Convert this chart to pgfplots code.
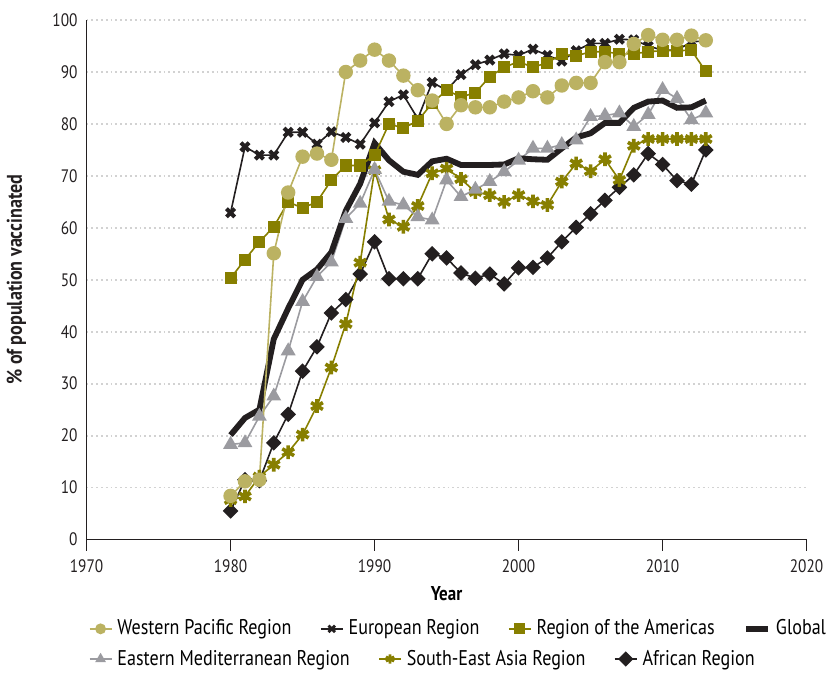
\documentclass[border=0pt]{standalone}
\usepackage{fontspec}
\setmainfont{PT Sans}[FakeStretch=0.85]
\usepackage{pgfplots}
\usepackage{pgfplotstable}
\pgfplotsset{compat=1.18}
\definecolor{wpc}{RGB}{187,178,98}
\definecolor{olv}{RGB}{135,127,0}
\definecolor{gry}{RGB}{155,155,160}
\definecolor{blk}{RGB}{35,31,32}

\pgfplotstableread{
year wp eur amr glob emr sear afr
1980 8.4 62.9 50.3 20.1 18.3 7.6 5.5
1981 11.2 75.6 53.9 23.4 18.6 8.3 11.5
1982 11.5 74.0 57.3 25.0 23.7 12.1 11.3
1983 55.1 74.0 60.2 38.6 27.6 14.4 18.6
1984 66.8 78.4 65.0 44.5 36.3 16.8 24.1
1985 73.7 78.4 63.8 50.0 45.8 20.2 32.4
1986 74.3 76.1 65.0 52.0 50.6 25.7 37.1
1987 73.1 78.5 69.2 55.3 53.4 33.1 43.6
1988 90.0 77.4 72.0 63.3 61.8 41.5 46.2
1989 92.2 76.1 72.0 68.5 64.7 53.3 51.1
1990 94.3 80.2 74.0 76.3 71.2 71.1 57.3
1991 92.2 84.3 80.0 73.0 65.1 61.6 50.2
1992 89.3 85.6 79.2 70.8 64.4 60.2 50.2
1993 86.5 81.0 80.6 70.2 62.1 64.2 50.2
1994 84.5 88.0 84.0 72.8 61.5 70.5 55.0
1995 80.0 86.5 86.5 73.3 69.2 71.4 54.2
1996 83.6 89.5 85.2 72.1 66.0 69.4 51.3
1997 83.2 91.4 86.0 72.1 67.4 66.9 50.3
1998 83.2 92.3 89.1 72.1 68.9 66.3 51.1
1999 84.3 93.5 90.9 72.2 70.8 65.0 49.2
2000 85.1 93.2 92.0 73.4 73.0 66.3 52.3
2001 86.3 94.4 90.9 73.2 75.3 65.1 52.4
2002 85.1 93.2 91.8 73.1 75.3 64.4 54.2
2003 87.4 92.1 93.4 75.3 76.0 68.9 57.3
2004 87.9 94.1 93.1 77.4 76.9 72.4 60.1
2005 87.9 95.5 93.9 78.2 81.4 70.9 62.7
2006 91.9 95.5 93.9 80.2 81.6 73.2 65.3
2007 91.9 96.3 93.5 80.2 82.1 69.2 67.8
2008 95.4 96.2 93.5 83.1 79.5 75.8 70.2
2009 97.1 95.0 93.9 84.3 81.8 77.1 74.3
2010 96.2 94.2 94.1 84.5 86.6 77.1 72.2
2011 96.2 94.2 94.1 83.1 84.9 77.1 69.1
2012 97.0 95.8 94.2 83.2 80.8 77.1 68.4
2013 96.1 96.0 90.1 84.5 82.1 77.1 75.0
}\datatable

\tikzset{
  wpsty/.style={color=wpc, line width=0.8bp, mark=*, mark size=3.2bp, mark options={solid, fill=wpc, draw=wpc}},
  eursty/.style={color=blk, line width=0.8bp, mark=x, mark size=2.9bp, mark options={solid, line width=2bp}},
  amrsty/.style={color=olv, line width=0.8bp, mark=square*, mark size=2.6bp, mark options={solid, fill=olv}},
  globsty/.style={color=blk, line width=2.9bp, no markers},
  emrsty/.style={color=gry, line width=0.8bp, mark=triangle*, mark size=3.5bp, mark options={solid, fill=gry}},
  searsty/.style={color=olv, line width=0.8bp, mark=asterisk, mark size=3.4bp, mark options={solid, line width=1.8bp}},
  afrsty/.style={color=blk, line width=0.8bp, mark=square*, mark size=2.35bp, mark options={solid, fill=blk, rotate=45}},
}

\pgfplotsset{
  common/.style={
    scale only axis, width=359bp, height=259bp,
    xmin=1970, xmax=2020, ymin=0, ymax=100,
    legend columns=-1,
    legend cell align=left,
    legend style={draw=none, fill=none, inner sep=0pt, outer sep=0pt, font=\fontsize{10.6bp}{12bp}\selectfont,
      /tikz/every even column/.append style={column sep=12.2bp},
      /tikz/every odd column/.append style={column sep=0.5bp}},
    legend image code/.code={\draw[mark repeat=2, mark phase=2, #1, mark size=2.3bp] plot coordinates {(0bp,0bp) (5.5bp,0bp) (11bp,0bp)};},
  }
}

\begin{document}
\begin{tikzpicture}
\begin{axis}[common,
  axis x line*=bottom, axis y line*=left,
  axis line style={blk, line width=0.6bp},
  xtick={1970,1980,...,2020}, ytick={0,10,...,100},
  xtick align=outside, ytick style={draw=none},
  major tick length=5.5bp, xtick style={blk, line width=0.6bp},
  ymajorgrids, grid style={gray!35, line width=0.9bp, dash pattern=on 0.9bp off 1.5bp},
  /pgf/number format/assume math mode=true,
  /pgf/number format/1000 sep={},
  ticklabel style={font=\fontsize{9bp}{11bp}\selectfont, text=blk},
  xticklabel style={yshift=-1bp},
  yticklabel style={xshift=-1bp},
  xlabel={\textbf{Year}},
  label style={font=\fontsize{10.6bp}{12bp}\selectfont, text=blk},
  every axis x label/.style={at={(axis description cs:0.5,-0.104)}, anchor=center},
  legend style={at={(axis description cs:0.003,-0.172)}, anchor=west},
  clip=false,
]
\addplot[afrsty, forget plot] table[x=year, y=afr] {\datatable};
\addplot[searsty, forget plot] table[x=year, y=sear] {\datatable};
\addplot[emrsty, forget plot] table[x=year, y=emr] {\datatable};
\addplot[globsty, forget plot] table[x=year, y=glob] {\datatable};
\addplot[eursty, forget plot] table[x=year, y=eur] {\datatable};
\addplot[amrsty, forget plot] table[x=year, y=amr] {\datatable};
\addplot[wpsty, forget plot] table[x=year, y=wp] {\datatable};
\addlegendimage{wpsty}\addlegendentry{Western Pacific Region}
\addlegendimage{eursty, mark options={solid, line width=1.4bp}}\addlegendentry{European Region}
\addlegendimage{amrsty}\addlegendentry{Region of the Americas}
\addlegendimage{globsty}\addlegendentry{Global}
\node[rotate=90, anchor=center, font=\fontsize{10.6bp}{12bp}\selectfont\bfseries, text=blk] at (axis description cs:-0.0975,0.5) {\% of population vaccinated};
\path ([yshift=10bp]axis description cs:0.5,1) coordinate (topspace);
\end{axis}
\begin{axis}[common, hide axis,
  legend style={at={(axis description cs:0.003,-0.23)}, anchor=west}]
\addlegendimage{emrsty}\addlegendentry{Eastern Mediterranean Region}
\addlegendimage{searsty, mark options={solid, line width=1.3bp}}\addlegendentry{South-East Asia Region}
\addlegendimage{afrsty}\addlegendentry{African Region}
\end{axis}
\end{tikzpicture}
\end{document}
